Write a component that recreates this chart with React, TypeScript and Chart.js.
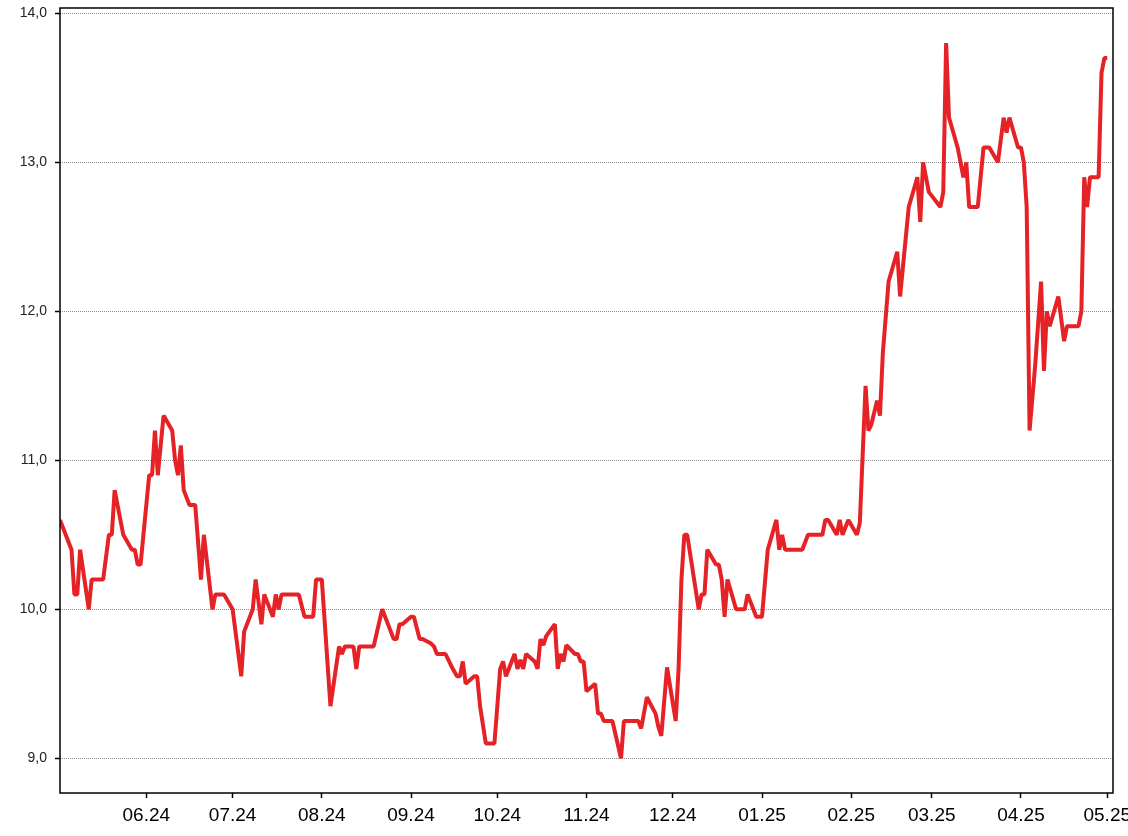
import { useEffect, useRef } from "react";
import { Chart, registerables } from "chart.js";
Chart.register(...registerables);

const START = "2024-05-02";
const END = "2025-05-03";

const dates = [
  "2024-05-02","2024-05-06","2024-05-07","2024-05-08","2024-05-09","2024-05-12","2024-05-13","2024-05-17","2024-05-19","2024-05-20",
  "2024-05-21","2024-05-24","2024-05-27","2024-05-28","2024-05-29","2024-05-30","2024-05-31","2024-06-02","2024-06-03","2024-06-04",
  "2024-06-05","2024-06-07","2024-06-10","2024-06-11","2024-06-12","2024-06-13","2024-06-14","2024-06-16","2024-06-18","2024-06-20",
  "2024-06-21","2024-06-24","2024-06-25","2024-06-28","2024-07-01","2024-07-04","2024-07-05","2024-07-08","2024-07-09","2024-07-11",
  "2024-07-12","2024-07-15","2024-07-16","2024-07-17","2024-07-18","2024-07-24","2024-07-26","2024-07-29","2024-07-30","2024-08-01",
  "2024-08-04","2024-08-07","2024-08-08","2024-08-09","2024-08-12","2024-08-13","2024-08-14","2024-08-19","2024-08-22","2024-08-26",
  "2024-08-27","2024-08-28","2024-08-29","2024-09-01","2024-09-02","2024-09-04","2024-09-05","2024-09-08","2024-09-09","2024-09-10",
  "2024-09-13","2024-09-15","2024-09-17","2024-09-18","2024-09-19","2024-09-20","2024-09-23","2024-09-24","2024-09-25","2024-09-27",
  "2024-09-30","2024-10-02","2024-10-03","2024-10-04","2024-10-07","2024-10-08","2024-10-09","2024-10-10","2024-10-11","2024-10-14",
  "2024-10-15","2024-10-16","2024-10-17","2024-10-18","2024-10-21","2024-10-22","2024-10-23","2024-10-24","2024-10-25","2024-10-28",
  "2024-10-29","2024-10-30","2024-10-31","2024-11-01","2024-11-04","2024-11-05","2024-11-06","2024-11-07","2024-11-10","2024-11-13",
  "2024-11-14","2024-11-19","2024-11-20","2024-11-22","2024-11-25","2024-11-26","2024-11-27","2024-11-29","2024-12-02","2024-12-03",
  "2024-12-04","2024-12-05","2024-12-06","2024-12-10","2024-12-11","2024-12-12","2024-12-13","2024-12-16","2024-12-17","2024-12-18",
  "2024-12-19","2024-12-20","2024-12-23","2024-12-26","2024-12-27","2024-12-30","2025-01-01","2025-01-03","2025-01-06","2025-01-07",
  "2025-01-08","2025-01-09","2025-01-15","2025-01-17","2025-01-22","2025-01-23","2025-01-24","2025-01-27","2025-01-28","2025-01-29",
  "2025-01-31","2025-02-03","2025-02-04","2025-02-06","2025-02-07","2025-02-08","2025-02-10","2025-02-11","2025-02-12","2025-02-14",
  "2025-02-17","2025-02-18","2025-02-21","2025-02-24","2025-02-25","2025-02-26","2025-02-28","2025-03-04","2025-03-05","2025-03-06",
  "2025-03-07","2025-03-10","2025-03-11","2025-03-12","2025-03-13","2025-03-14","2025-03-17","2025-03-19","2025-03-21","2025-03-24",
  "2025-03-26","2025-03-27","2025-03-28","2025-03-31","2025-04-01","2025-04-02","2025-04-03","2025-04-04","2025-04-06","2025-04-08",
  "2025-04-09","2025-04-10","2025-04-11","2025-04-14","2025-04-16","2025-04-17","2025-04-21","2025-04-22","2025-04-23","2025-04-24",
  "2025-04-25","2025-04-28","2025-04-29","2025-04-30","2025-05-01",
];

const values = [
  10.6,10.4,10.1,10.1,10.4,10.0,10.2,10.2,10.5,10.5,
  10.8,10.5,10.4,10.4,10.3,10.3,10.5,10.9,10.9,11.2,
  10.9,11.3,11.2,11.0,10.9,11.1,10.8,10.7,10.7,10.2,
  10.5,10.0,10.1,10.1,10.0,9.55,9.85,10.0,10.2,9.9,
  10.1,9.95,10.1,10.0,10.1,10.1,9.95,9.95,10.2,10.2,
  9.35,9.75,9.7,9.75,9.75,9.6,9.75,9.75,10.0,9.8,
  9.8,9.9,9.9,9.95,9.95,9.8,9.8,9.77,9.75,9.7,
  9.7,9.62,9.55,9.55,9.65,9.5,9.55,9.55,9.35,9.1,
  9.1,9.6,9.65,9.55,9.7,9.6,9.66,9.6,9.7,9.65,
  9.6,9.8,9.76,9.82,9.9,9.6,9.7,9.65,9.76,9.7,
  9.7,9.65,9.65,9.45,9.5,9.3,9.3,9.25,9.25,9.0,
  9.25,9.25,9.2,9.41,9.3,9.21,9.15,9.61,9.25,9.6,
  10.2,10.5,10.5,10.0,10.1,10.1,10.4,10.3,10.3,10.2,
  9.95,10.2,10.0,10.0,10.1,9.95,9.95,10.4,10.6,10.4,
  10.5,10.4,10.4,10.5,10.5,10.6,10.6,10.5,10.6,10.5,
  10.6,10.5,10.58,11.5,11.2,11.24,11.4,11.3,11.72,12.2,
  12.4,12.1,12.7,12.9,12.6,13.0,12.8,12.7,12.8,13.8,
  13.3,13.1,13.0,12.9,13.0,12.7,12.7,13.1,13.1,13.0,
  13.3,13.2,13.3,13.1,13.1,13.0,12.7,11.2,11.65,12.2,
  11.6,12.0,11.9,12.1,11.8,11.9,11.9,12.0,12.9,12.7,
  12.9,12.9,13.6,13.7,13.7,
];

const monthTickDates = [
  "2024-06-01","2024-07-01","2024-08-01","2024-09-01","2024-10-01","2024-11-01",
  "2024-12-01","2025-01-01","2025-02-01","2025-03-01","2025-04-01","2025-05-01",
];
const monthTickLabels = [
  "06.24","07.24","08.24","09.24","10.24","11.24",
  "12.24","01.25","02.25","03.25","04.25","05.25",
];
const yTickValues = [9, 10, 11, 12, 13, 14];

const Y_MIN = 8.767;
const Y_MAX = 14.036;

const dayOf = (s: string) => (Date.parse(s) - Date.parse(START)) / 86400000;

export default function App() {
  const ref = useRef<HTMLCanvasElement | null>(null);

  useEffect(() => {
    if (!ref.current) return;
    const tickDays = monthTickDates.map(dayOf);
    const framePlugin = {
      id: "frame",
      afterDraw(chart: any) {
        const { ctx, chartArea } = chart;
        ctx.save();
        ctx.strokeStyle = "#000";
        ctx.lineWidth = 1.5;
        ctx.strokeRect(chartArea.left, chartArea.top, chartArea.right - chartArea.left, chartArea.bottom - chartArea.top);
        ctx.restore();
      },
    };
    const chart = new Chart(ref.current, {
      type: "line",
      data: {
        datasets: [
          {
            data: dates.map((d, i) => ({ x: dayOf(d), y: values[i] })),
            borderColor: "#e52226",
            borderWidth: 4,
            borderJoinStyle: "bevel",
            pointRadius: 0,
            tension: 0,
            fill: false,
          },
        ],
      },
      options: {
        responsive: false,
        animation: false,
        devicePixelRatio: 1,
        layout: { padding: { left: 0, top: 8, right: 15, bottom: 0 } },
        plugins: { legend: { display: false }, tooltip: { enabled: false } },
        scales: {
          x: {
            type: "linear",
            min: 0,
            max: dayOf(END),
            afterBuildTicks: (scale: any) => {
              scale.ticks = tickDays.map((v) => ({ value: v }));
            },
            afterFit: (scale: any) => {
              scale.height = 43;
              scale.paddingLeft = 0;
              scale.paddingRight = 0;
            },
            ticks: {
              autoSkip: false,
              maxRotation: 0,
              color: "#000",
              padding: 6,
              font: { family: "'Liberation Sans', Arial, sans-serif", size: 19 },
              callback: (v: any) => {
                const i = tickDays.indexOf(Number(v));
                return i >= 0 ? monthTickLabels[i] : "";
              },
            },
            grid: {
              drawOnChartArea: false,
              drawTicks: true,
              tickLength: 5,
              tickColor: "#000",
              tickWidth: 1.5,
            },
            border: { display: false },
          },
          y: {
            type: "linear",
            min: Y_MIN,
            max: Y_MAX,
            afterBuildTicks: (scale: any) => {
              scale.ticks = yTickValues.map((v) => ({ value: v }));
            },
            afterFit: (scale: any) => {
              scale.width = 60;
              scale.paddingTop = 0;
              scale.paddingBottom = 0;
            },
            ticks: {
              color: "#222",
              padding: 8,
              font: { family: "'Liberation Sans', Arial, sans-serif", size: 14 },
              callback: (v: any) => Number(v).toFixed(1).replace(".", ","),
            },
            grid: {
              color: "rgba(0,0,0,0.45)",
              lineWidth: 1,
              drawTicks: true,
              tickLength: 5,
              tickColor: "#000",
              tickWidth: 1.5,
              tickBorderDash: [],
            },
            border: { display: false, dash: [1, 1] },
          },
        },
      },
      plugins: [framePlugin],
    } as any);
    return () => chart.destroy();
  }, []);

  return (
    <div style={{ position: "absolute", left: 0, top: 0, width: 1128, height: 836, background: "#fff" }}>
      <canvas ref={ref} width={1128} height={836} style={{ display: "block", width: 1128, height: 836 }} />
    </div>
  );
}
